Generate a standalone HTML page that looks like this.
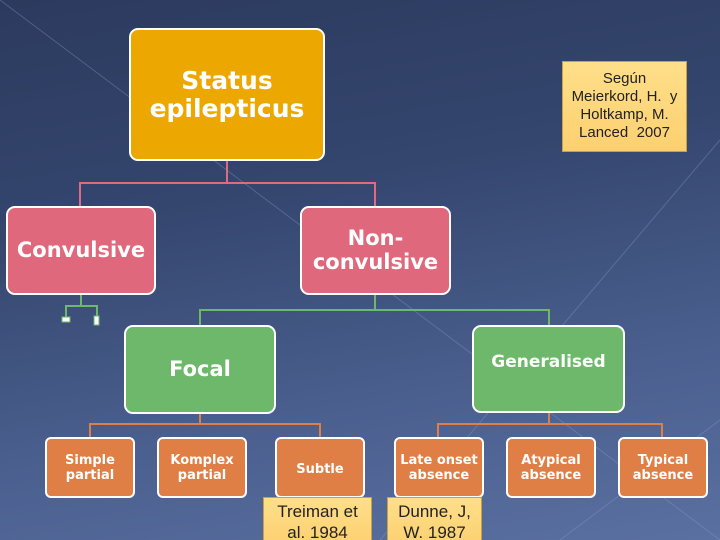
<!DOCTYPE html>
<html><head><style>
body{margin:0}
#s{position:relative;width:720px;height:540px;overflow:hidden;background:linear-gradient(170deg,#2c3a5e 0%,#34466e 35%,#4a5f8e 70%,#5a70a0 100%);font-family:"DejaVu Sans","Liberation Sans",sans-serif}
.b{position:absolute;box-sizing:border-box;border:2px solid #fff;border-radius:9px;color:#fff;font-weight:bold;display:flex;align-items:center;justify-content:center;text-align:center;line-height:1.1}
.o{background:#e07f45;font-size:13px;top:437px;height:61px;width:90px;border-radius:6px;padding-top:2px}
.y{position:absolute;box-sizing:border-box;background:linear-gradient(#ffdf8a,#fcd070);border:1px solid #c9a240;color:#222;text-align:center;font-size:15px;line-height:18px;padding-top:3px;font-family:"Liberation Sans",sans-serif}
</style></head><body><div id="s">
<svg width="720" height="540" style="position:absolute;left:0;top:0">
<g stroke="#8da0c8" stroke-width="1" opacity="0.35" fill="none">
<line x1="0" y1="0" x2="720" y2="540"/>
<line x1="720" y1="140" x2="380" y2="540"/>
<line x1="560" y1="540" x2="720" y2="420"/>
</g>
<g fill="none" stroke-width="2">
<path d="M227 161V183M80 206V183H375V206" stroke="#e06a80"/>
<path d="M375 295V310M200 325V310H549V325" stroke="#6db86a"/>
<path d="M81 295V306M66 318V306H97V318" stroke="#6db86a"/>
<path d="M200 414V424M90 437V424H320V437M549 413V424M438 437V424H662V437" stroke="#e07f45"/>
</g>
<rect x="62" y="317" width="8" height="5" fill="#fff" stroke="#6db86a"/>
<rect x="94" y="316" width="5" height="9" fill="#fff" stroke="#6db86a"/>
</svg>
<div class="b" style="left:129px;top:28px;width:196px;height:133px;background:#eca800;font-size:25px">Status<br>epilepticus</div>
<div class="b" style="left:6px;top:206px;width:150px;height:89px;background:#e0687c;font-size:21px">Convulsive</div>
<div class="b" style="left:300px;top:206px;width:151px;height:89px;background:#e0687c;font-size:21px">Non-<br>convulsive</div>
<div class="b" style="left:124px;top:325px;width:152px;height:89px;background:#6db86a;font-size:21px">Focal</div>
<div class="b" style="left:472px;top:325px;width:153px;height:88px;background:#6db86a;font-size:17px;align-items:flex-start;padding-top:26px">Generalised</div>
<div class="b o" style="left:45px">Simple<br>partial</div>
<div class="b o" style="left:157px">Komplex<br>partial</div>
<div class="b o" style="left:275px;padding-top:6px">Subtle</div>
<div class="b o" style="left:394px">Late onset<br>absence</div>
<div class="b o" style="left:506px">Atypical<br>absence</div>
<div class="b o" style="left:618px">Typical<br>absence</div>
<div class="y" style="left:562px;top:61px;width:125px;height:91px;padding-top:8px;font-size:15px">Según<br>Meierkord, H.&nbsp; y<br>Holtkamp, M.<br>Lanced&nbsp; 2007</div>
<div class="y" style="left:263px;top:497px;width:109px;height:50px;font-size:17px;line-height:21px">Treiman et<br>al. 1984</div>
<div class="y" style="left:387px;top:497px;width:95px;height:50px;font-size:17px;line-height:21px">Dunne, J,<br>W. 1987</div>
</div></body></html>
